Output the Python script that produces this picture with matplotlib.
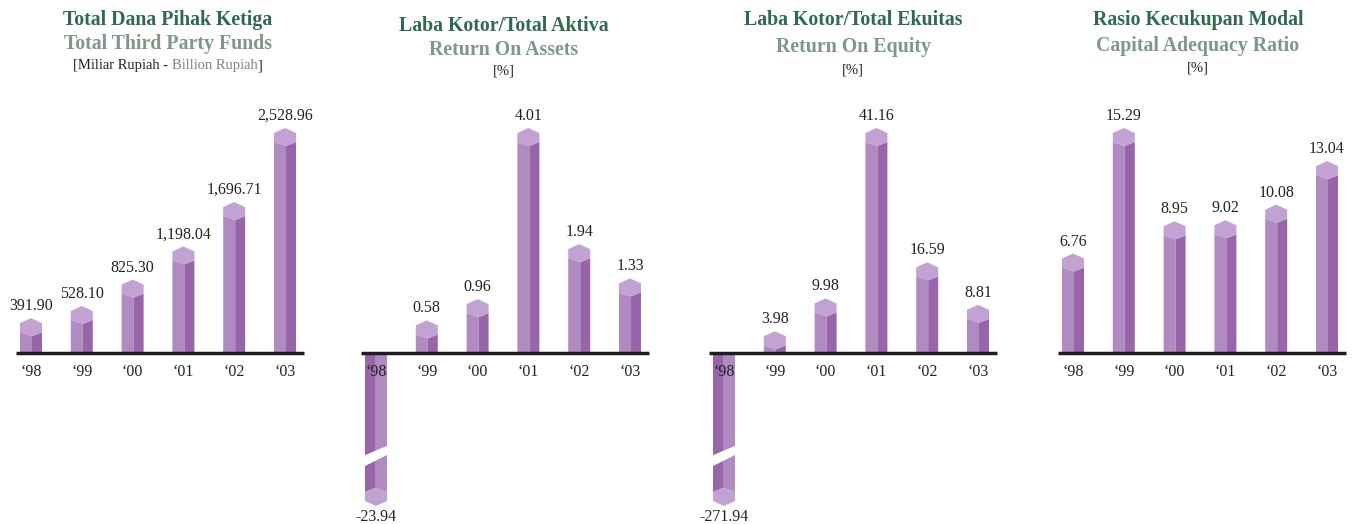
import matplotlib
matplotlib.use("Agg")
import matplotlib.pyplot as plt
from matplotlib.patches import Polygon

plt.rcParams['font.family'] = ['Liberation Serif', 'DejaVu Serif']

# --- data ---
years = ['\u201898', '\u201899', '\u201800', '\u201801', '\u201802', '\u201803']
dpk = [391.90, 528.10, 825.30, 1198.04, 1696.71, 2528.96]
roa = [-23.94, 0.58, 0.96, 4.01, 1.94, 1.33]
roe = [-271.94, 3.98, 9.98, 41.16, 16.59, 8.81]
car = [6.76, 15.29, 8.95, 9.02, 10.08, 13.04]

titles_id = ['Total Dana Pihak Ketiga', 'Laba Kotor/Total Aktiva',
             'Laba Kotor/Total Ekuitas', 'Rasio Kecukupan Modal']
titles_en = ['Total Third Party Funds', 'Return On Assets',
             'Return On Equity', 'Capital Adequacy Ratio']
units = [None, '[%]', '[%]', '[%]']

series = [dpk, roa, roe, car]

# --- layout (pixels) ---
W, H = 1356, 524
DPI = 100
first_center = [31, 376, 724, 1073]
title_x = [168, 504, 853, 1198]
title_y = [(20, 44, 66), (26, 50, 71), (20, 47, 70), (20, 46, 68)]
STEP = 50.8        # px between bars
BASE = 171         # baseline, px from bottom
TOP = 225          # px for the largest value
NEG_DEPTH = 153    # px a truncated negative bar reaches

C_LEFT = '#b08ac1'
C_RIGHT = '#9865ab'
C_CAP = '#c2a2d3'
C_DARK = '#2f6a4e'
C_GREY = '#7f9886'
C_TEXT = '#222222'

FS_VAL = 11.5
FS_TITLE = 14.3
FS_UNIT = 10.5

fig = plt.figure(figsize=(W / DPI, H / DPI), dpi=DPI)


def poly(ax, pts, color, z=2):
    ax.add_patch(Polygon(pts, closed=True, facecolor=color, edgecolor='none', zorder=z))


def draw_bar(ax, xc, h, px, py):
    # px / py: data units per pixel
    x0, x1 = xc - 11 * px, xc + 11 * px
    if h >= 0:
        xs = x0 + 12 * px
        poly(ax, [(x0, 0), (xs, 0), (xs, h - 18 * py), (x0, h - 14 * py)], C_LEFT)
        poly(ax, [(xs, 0), (x1, 0), (x1, h - 14 * py), (xs, h - 18 * py)], C_RIGHT)
        poly(ax, [(x0, h - 14 * py), (x0, h - 5 * py), (xc, h), (x1, h - 5 * py),
                  (x1, h - 14 * py), (xs, h - 18 * py)], C_CAP)
    else:
        d = -NEG_DEPTH * py
        xs = x0 + 10 * px
        poly(ax, [(x0, 0), (xs, 0), (xs, d + 18 * py), (x0, d + 14 * py)], C_RIGHT)
        poly(ax, [(xs, 0), (x1, 0), (x1, d + 14 * py), (xs, d + 18 * py)], C_LEFT)
        poly(ax, [(x0, d + 14 * py), (x0, d + 5 * py), (xc, d), (x1, d + 5 * py),
                  (x1, d + 14 * py), (xs, d + 18 * py)], C_CAP)
        # break mark across the truncated bar
        poly(ax, [(x0 - 2 * px, -103 * py), (x1 + 2 * px, -92 * py),
                  (x1 + 2 * px, -101 * py), (x0 - 2 * px, -114 * py)], 'white', z=3)


for k, vals in enumerate(series):
    vmax = max(vals)
    py = vmax / TOP
    px = 1 / STEP
    left = first_center[k] - 22
    width = 300
    ax = fig.add_axes([left / W, 0, width / W, 1])
    ax.set_xlim(-22 * px, (width - 22) * px)
    ax.set_ylim(-BASE * py, (H - BASE) * py)
    ax.axis('off')

    for i, v in enumerate(vals):
        draw_bar(ax, i, v, px, py)
        if v >= 0:
            ax.text(i, v + 4 * py, f'{v:,.2f}', ha='center', va='bottom',
                    fontsize=FS_VAL, color=C_TEXT, zorder=5)
        else:
            ax.text(i, -(NEG_DEPTH + 3) * py, f'{v:,.2f}', ha='center', va='top',
                    fontsize=FS_VAL, color=C_TEXT, zorder=5)
        ax.text(i, -19 * py, years[i], ha='center', va='center',
                fontsize=FS_VAL, color=C_TEXT, zorder=5)

    ax.plot([-15 * px, 5 + 19 * px], [0, 0], color='#1e1e1e', lw=2.5,
            solid_capstyle='butt', zorder=4)

    ty = title_y[k]
    fig.text(title_x[k] / W, 1 - ty[0] / H, titles_id[k], ha='center', va='center',
             fontsize=FS_TITLE, fontweight='bold', color=C_DARK)
    fig.text(title_x[k] / W, 1 - ty[1] / H, titles_en[k], ha='center', va='center',
             fontsize=FS_TITLE, fontweight='bold', color=C_GREY)
    if units[k]:
        fig.text(title_x[k] / W, 1 - ty[2] / H, units[k], ha='center', va='center',
                 fontsize=FS_UNIT, color=C_TEXT)

# two-colour unit line for the first panel
renderer = fig.canvas.get_renderer()
pieces = [('[Miliar Rupiah - ', C_TEXT), ('Billion Rupiah', '#808080'), (']', C_TEXT)]
widths = []
for s, c in pieces:
    t = fig.text(0, 0, s, fontsize=FS_UNIT)
    widths.append(t.get_window_extent(renderer).width)
    t.remove()
xpos = title_x[0] - sum(widths) / 2
for (s, c), wpx in zip(pieces, widths):
    fig.text(xpos / W, 1 - title_y[0][2] / H, s, ha='left', va='center',
             fontsize=FS_UNIT, color=c)
    xpos += wpx

fig.savefig('out.png', dpi=DPI)
